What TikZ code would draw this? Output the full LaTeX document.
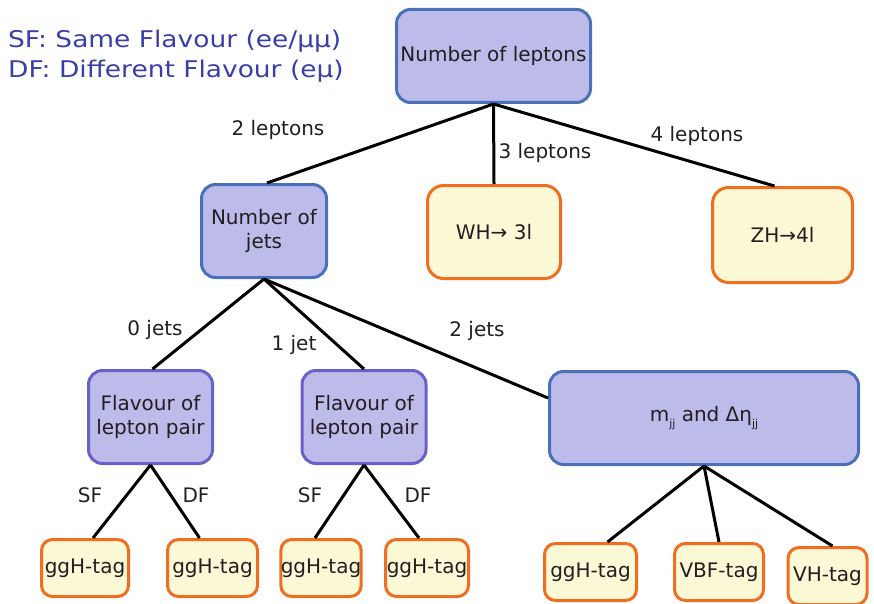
\documentclass[tikz,border=0pt]{standalone}
\usepackage{fontspec}
\setmainfont{DejaVu Sans}
\newfontfamily\legendfont[FakeStretch=1.15]{DejaVu Sans}
\definecolor{boxfill}{RGB}{189,187,233}
\definecolor{boxline}{RGB}{74,112,186}
\definecolor{flvline}{RGB}{104,98,200}
\definecolor{tagfill}{RGB}{251,248,214}
\definecolor{tagline}{RGB}{240,110,34}
\definecolor{legblue}{RGB}{58,62,168}
\definecolor{txt}{RGB}{34,30,34}
\newcommand{\jjsub}{\raisebox{-0.3em}{\fontsize{11}{11}\selectfont jj}}
\tikzset{
  box/.style={draw=boxline, fill=boxfill, line width=3pt, rounded corners=14pt, inner sep=0pt, align=center, text=txt},
  tagbox/.style={draw=tagline, fill=tagfill, line width=3pt, rounded corners=11pt, inner sep=0pt, align=center, text=txt, minimum height=57pt},
  lbl/.style={text=txt, inner sep=0pt},
  edge/.style={line width=3pt}
}
\begin{document}
\begin{tikzpicture}[x=1pt, y=-1pt, font=\fontsize{20}{24}\selectfont]
  \useasboundingbox (0,0) rectangle (874,604);
  % legend
  \node[anchor=base west, text=legblue, inner sep=0pt, font=\legendfont\fontsize{23}{27}\selectfont] (legsf) at (8,48) {SF: Same Flavour (ee/μμ)};
  \node[anchor=base west, text=legblue, inner sep=0pt, font=\legendfont\fontsize{23}{27}\selectfont] (legdf) at (8,78) {DF: Different Flavour (eμ)};
  % nodes
  \node[box, minimum width=194pt, minimum height=93pt] (lep) at (493.5,56) {Number of leptons};
  \node[box, minimum width=125pt, minimum height=93pt] (jets) at (264,231) {Number of\\jets};
  \node[tagbox, minimum width=133pt, minimum height=93pt, rounded corners=16pt] (wh) at (494,232) {WH→ 3l};
  \node[tagbox, minimum width=140pt, minimum height=95pt, rounded corners=16pt] (zh) at (782.5,235) {ZH→4l};
  \node[box, draw=flvline, minimum width=124pt, minimum height=93pt] (flav1) at (150.5,417) {Flavour of\\lepton pair};
  \node[box, draw=flvline, minimum width=124pt, minimum height=93pt] (flav2) at (364,417) {Flavour of\\lepton pair};
  \node[box, minimum width=309pt, minimum height=93pt] (mjj) at (704,418) {m\jjsub{} and Δη\jjsub};
  \node[tagbox, minimum width=87pt] (tag1) at (85,568) {ggH-tag};
  \node[tagbox, minimum width=90pt] (tag2) at (212.5,568) {ggH-tag};
  \node[tagbox, minimum width=79pt] (tag3) at (321,568) {ggH-tag};
  \node[tagbox, minimum width=83pt] (tag4) at (427,568) {ggH-tag};
  \node[tagbox, minimum width=92pt] (tag5) at (590.5,572) {ggH-tag};
  \node[tagbox, minimum width=89pt] (tag6) at (719,572) {VBF-tag};
  \node[tagbox, minimum width=79pt] (tag7) at (827.5,576) {VH-tag};
  % connectors
  \draw[edge] (lep.south) -- ([xshift=3pt]jets.north);
  \draw[edge] (lep.south) -- (wh.north);
  \draw[edge] (lep.south) -- ([xshift=-8pt]zh.north);
  \draw[edge] (jets.south) -- ([xshift=2pt]flav1.north);
  \draw[edge] (jets.south) -- (flav2.north);
  \draw[edge] (jets.south) -- ([yshift=20pt]mjj.west);
  \draw[edge] (flav1.south) -- ([xshift=8pt]tag1.north);
  \draw[edge] (flav1.south) -- ([xshift=-13pt]tag2.north);
  \draw[edge] (flav2.south) -- ([xshift=-6pt]tag3.north);
  \draw[edge] (flav2.south) -- ([xshift=-8pt]tag4.north);
  \draw[edge] (mjj.south) -- ([xshift=17pt]tag5.north);
  \draw[edge] (mjj.south) -- (tag6.north);
  \draw[edge] (mjj.south) -- ([xshift=5pt]tag7.north);
  % branch labels
  \node[lbl] (two) at (278,130) {2 leptons};
  \node[lbl] (three) at (545,153) {3 leptons};
  \node[lbl] (four) at (697,136) {4 leptons};
  \node[lbl] (zero) at (155,330) {0 jets};
  \node[lbl] (one) at (294,345) {1 jet};
  \node[lbl] (twoj) at (477,331) {2 jets};
  \node[lbl] (sf1) at (90,495) {SF};
  \node[lbl] (df1) at (196,495) {DF};
  \node[lbl] (sf2) at (310,495) {SF};
  \node[lbl] (df2) at (418,495) {DF};
\end{tikzpicture}
\end{document}
